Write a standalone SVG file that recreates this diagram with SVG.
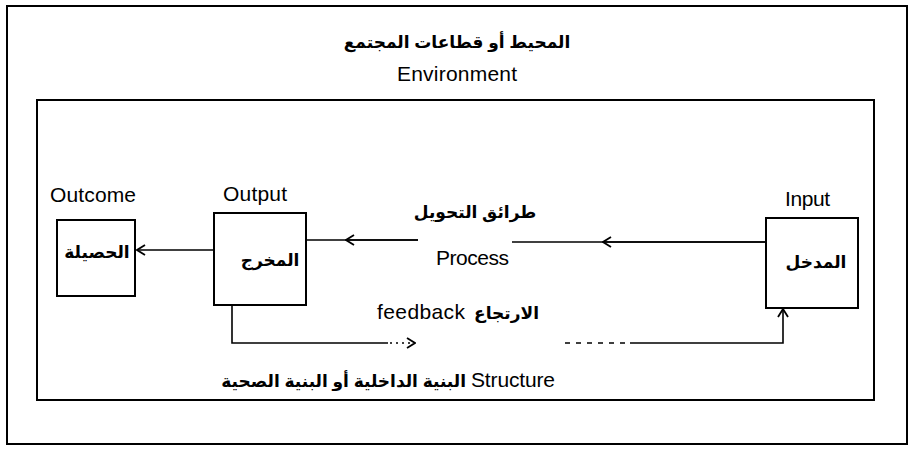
<svg xmlns="http://www.w3.org/2000/svg" width="911" height="452" viewBox="0 0 911 452">
<defs>
<style>
.frame{fill:none;stroke:#000;stroke-width:2}
.box{fill:#fff;stroke:#000;stroke-width:2}
.ln{fill:none;stroke:#000;stroke-width:1.6}
.dash{fill:none;stroke:#000;stroke-width:1.4;stroke-dasharray:5,6}
.en{font-family:"Liberation Sans",Arial,sans-serif;font-size:21px;fill:#000}
.ar{font-family:"Liberation Sans","DejaVu Sans",sans-serif;font-size:17px;font-weight:bold;fill:#000}
</style>
<marker id="open" viewBox="0 0 10 12" refX="9" refY="6" markerWidth="10" markerHeight="12" markerUnits="userSpaceOnUse" orient="auto">
<path d="M1,1 L9,6 L1,11" fill="none" stroke="#000" stroke-width="1.8"/>
</marker>
</defs>
<rect width="911" height="452" fill="#fff"/>
<g id="environment">
<rect class="frame" x="7" y="6" width="900" height="438"/>
<text class="ar" x="457" y="48" text-anchor="middle">المحيط أو قطاعات المجتمع</text>
<text class="en" x="457" y="81" text-anchor="middle" textLength="120">Environment</text>
</g>
<g id="structure">
<rect class="frame" x="37" y="100" width="837" height="300"/>
<text class="ar" x="466" y="387" text-anchor="end">البنية الداخلية أو البنية الصحية</text>
<text class="en" x="471" y="387" textLength="84">Structure</text>
</g>
<g id="outcome">
<text class="en" x="50" y="202" textLength="86">Outcome</text>
<rect class="box" x="57" y="220" width="78" height="76"/>
<text class="ar" x="97" y="258" text-anchor="middle">الحصيلة</text>
</g>
<g id="output">
<text class="en" x="223" y="201" textLength="64">Output</text>
<rect class="box" x="214" y="213" width="92" height="92"/>
<text class="ar" x="270" y="266" text-anchor="middle">المخرج</text>
</g>
<g id="input">
<text class="en" x="785" y="206" textLength="45">Input</text>
<rect class="box" x="766" y="218" width="92" height="90"/>
<text class="ar" x="816" y="268" text-anchor="middle">المدخل</text>
</g>
<g id="process">
<text class="ar" x="475" y="218" text-anchor="middle">طرائق التحويل</text>
<text class="en" x="436" y="265" textLength="73">Process</text>
</g>
<g id="feedback">
<text class="en" x="377" y="319" textLength="88">feedback</text>
<text class="ar" x="539" y="319" text-anchor="end">الارتجاع</text>
</g>
<g id="connectors">
<line class="ln" x1="214" y1="250" x2="137" y2="250" marker-end="url(#open)"/>
<line class="ln" x1="418" y1="240" x2="307" y2="240"/>
<line class="ln" x1="418" y1="240" x2="346" y2="240" marker-end="url(#open)"/>
<line class="ln" x1="766" y1="242" x2="512" y2="242"/>
<line class="ln" x1="766" y1="242" x2="603" y2="242" marker-end="url(#open)"/>
<polyline class="ln" points="232,305 232,343 388,343"/>
<line class="ln" x1="390" y1="343" x2="415" y2="343" stroke-dasharray="2,4" marker-end="url(#open)"/>
<line class="dash" x1="565" y1="343" x2="630" y2="343"/>
<polyline class="ln" points="630,343 783,343 783,309" marker-end="url(#open)"/>
</g>
</svg>
